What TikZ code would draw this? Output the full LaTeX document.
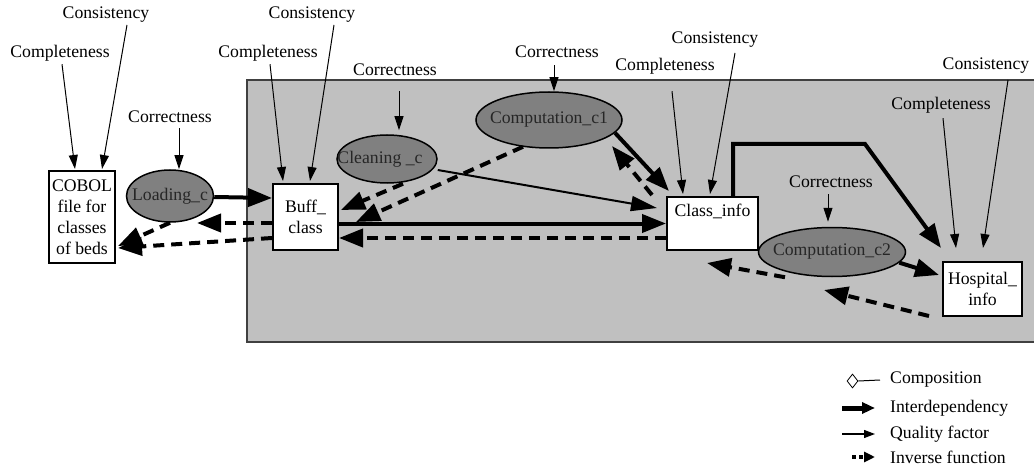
\documentclass[tikz,border=0pt]{standalone}
\usepackage{fontspec}
\setmainfont{Liberation Serif}
\usetikzlibrary{arrows.meta,shapes.geometric}
\definecolor{bggray}{HTML}{C0C0C0}
\definecolor{procgray}{HTML}{808080}
\begin{document}
\begin{tikzpicture}[x=1pt,y=-1pt,
  every node/.style={font=\fontsize{17.7}{21}\selectfont, text=black},
  lbl/.style={inner sep=1pt},
  box/.style={draw=black, line width=2pt, fill=white, align=center, inner sep=0pt},
  proc/.style={ellipse, draw=black, line width=1.5pt, fill=procgray, inner sep=0pt, text=black!85},
  qf/.style={line width=1pt, -{Triangle[length=14pt,width=9pt]}},
  inter/.style={line width=4pt, -{Triangle[length=24pt,width=18pt]}},
  mid/.style={line width=2pt, -{Triangle[length=26pt,width=15pt]}},
  inv/.style={line width=4pt, dash pattern=on 11pt off 7pt, -{Triangle[length=24pt,width=18pt]}},
]
\useasboundingbox (0,0) rectangle (1034,468);

% shaded region
\filldraw[fill=bggray, draw=black!75, line width=1.5pt] (247,80) rectangle (1040,342);

% data stores and processes
\node[box, minimum width=66pt, minimum height=92pt] (cobol) at (82,217) {COBOL\\file for\\classes\\of beds};
\node[proc, minimum width=87pt, minimum height=52pt] (loading) at (170,196) {\makebox[0pt]{Loading\_c}};
\node[box, minimum width=65pt, minimum height=66pt] (buff) at (305.5,217) {Buff\_\\class};
\node[proc, minimum width=100pt, minimum height=48pt] (cleaning) at (387,159) {\makebox[0pt]{Cleaning \_c\hspace*{14pt}}};
\node[proc, minimum width=146pt, minimum height=56pt] (comp1) at (549,120) {\makebox[0pt]{Computation\_c1}};
\node[box, minimum width=91pt, minimum height=53pt] (class) at (712.5,223.5) {Class\_info\\[5pt]\mbox{}};
\node[proc, minimum width=147pt, minimum height=49pt] (comp2) at (832,252) {\makebox[0pt]{Computation\_c2}};
\node[box, minimum width=79pt, minimum height=54pt] (hosp) at (982.5,289) {Hospital\_\\info};

% quality factor labels
\node[lbl] (compA) at (60,53) {Completeness};
\node[lbl] (consA) at (106,15) {Consistency};
\node[lbl] (corrL) at (170,117) {Correctness};
\node[lbl] (compB) at (268,53) {Completeness};
\node[lbl] (consB) at (312,15) {Consistency};
\node[lbl] (corrCl) at (395,70) {Correctness};
\node[lbl] (corrC1) at (557,52) {Correctness};
\node[lbl] (compC) at (665,66) {Completeness};
\node[lbl] (consC) at (715,40) {Consistency};
\node[lbl] (corrD) at (831,182) {Correctness};
\node[lbl] (compD) at (941,105) {Completeness};
\node[lbl] (consD) at (986,66) {Consistency};

% quality factors
\draw[qf] ([xshift=2pt,yshift=-2pt]compA.south) -- ([xshift=-7pt,yshift=1pt]cobol.north);
\draw[qf] ([xshift=21pt,yshift=-1pt]consA.south) -- ([xshift=20pt,yshift=1pt]cobol.north);
\draw[qf] ([xshift=9pt,yshift=-4pt]corrL.south) -- ([xshift=9pt]loading.north);
\draw[qf] ([xshift=2pt,yshift=-2pt]compB.south) -- ([xshift=-22.5pt,yshift=2pt]buff.north);
\draw[qf] ([xshift=22pt,yshift=-1pt]consB.south) -- ([xshift=4.5pt,yshift=2pt]buff.north);
\draw[qf] ([xshift=4pt,yshift=-14pt]corrCl.south) -- ([xshift=12pt,yshift=4pt]cleaning.north);
\draw[qf] ([xshift=-3pt,yshift=-6pt]corrC1.south) -- ([xshift=5pt]comp1.north);
\draw[qf] ([xshift=7pt,yshift=-16pt]compC.south) -- ([xshift=-29.5pt,yshift=2pt]class.north);
\draw[qf] ([xshift=20pt,yshift=-4pt]consC.south) -- ([xshift=-2.5pt,yshift=2pt]class.north);
\draw[qf] ([xshift=-3pt,yshift=-5pt]corrD.south) -- ([xshift=-4pt,yshift=5pt]comp2.north);
\draw[qf] ([xshift=2pt,yshift=-4pt]compD.south) -- ([xshift=-26.5pt,yshift=13pt]hosp.north);
\draw[qf] ([xshift=22pt,yshift=-5pt]consD.south) -- ([xshift=0.5pt,yshift=13pt]hosp.north);

% free ends of inverse functions
\coordinate (toLoad) at (197,223);
\coordinate (toComp1) at (612,146);
\coordinate (toClass) at (707,263);
\coordinate (toComp2) at (824,290);

% interdependencies
\draw[inter] ([yshift=-1pt]loading.east) -- ([yshift=19pt]buff.west);
\draw[inter] (buff.east |- class.west) -- (class.west);
\draw[inter] (comp1.-11) -- ([xshift=3pt,yshift=5pt]class.north west);
\draw[inter] ([xshift=20.5pt]class.north) -- ++(0,-52) -- ++(132,0) -- ([xshift=-1pt,yshift=13pt]hosp.north west);
\draw[inter] (comp2.-9) -- ([xshift=-3pt,yshift=14pt]hosp.west);
\draw[mid] ([yshift=-11pt]cleaning.east) -- ([xshift=-9pt,yshift=15.5pt]class.west);

% inverse functions
\draw[inv] ([yshift=-6pt]buff.west) -- (toLoad);
\draw[inv] ([yshift=-21pt]buff.west) -- ([xshift=2pt,yshift=-31pt]cobol.east);
\draw[inv] (loading.south) -- ([xshift=2pt,yshift=-29pt]cobol.east);
\draw[inv] ([xshift=16pt]cleaning.south) -- ([xshift=2pt,yshift=7pt]buff.east);
\draw[inv] ([xshift=-26pt,yshift=2pt]comp1.south) -- ([xshift=17pt,yshift=-5pt]buff.east);
\draw[inv] ([yshift=-14.5pt]class.west) -- ([yshift=-21pt]buff.east);
\draw[inv] ([xshift=-14pt,yshift=1pt]class.north west) -- (toComp1);
\draw[inv] ([xshift=-47pt]comp2.south) -- (toClass);
\draw[inv] ([xshift=-13pt,yshift=1pt]hosp.south west) -- (toComp2);

% legend
\node[lbl, anchor=west] (lgA) at (889,380) {Composition};
\node[lbl, anchor=west] (lgB) at (889,408) {Interdependency};
\node[lbl, anchor=west] (lgC) at (889,434) {Quality factor};
\node[lbl, anchor=west] (lgD) at (889,457) {Inverse function};
\node[diamond, draw=black, line width=0.8pt, inner sep=0pt, minimum width=11pt, minimum height=14pt] (dia) at (852.5,381) {};
\draw[line width=1pt] (dia.east) -- ([xshift=-9pt]lgA.west);
\draw[line width=5pt, -{Triangle[length=13pt,width=11pt]}] ([xshift=-47pt]lgB.west) -- ([xshift=-14pt]lgB.west);
\draw[line width=1.2pt, -{Triangle[length=11pt,width=8pt]}] ([xshift=-47pt]lgC.west) -- ([xshift=-14pt]lgC.west);
\draw[line width=4pt, dash pattern=on 4pt off 3pt, -{Triangle[length=11pt,width=10pt]}] ([xshift=-37pt]lgD.west) -- ([xshift=-14pt]lgD.west);
\end{tikzpicture}
\end{document}
